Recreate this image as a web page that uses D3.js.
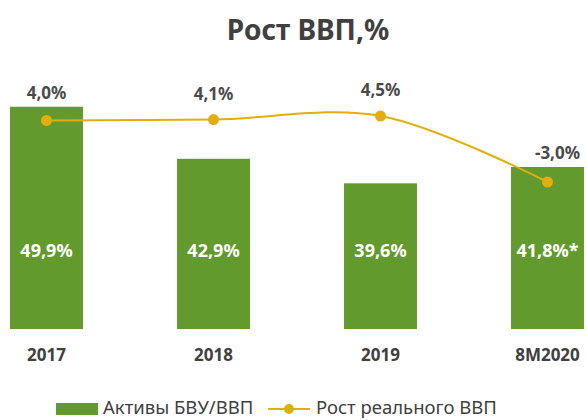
<!DOCTYPE html>
<html lang="ru">
<head>
<meta charset="UTF-8">
<script src="https://d3js.org/d3.v7.min.js"></script>
<style>
  body { margin: 0; background: #fff; font-family: "Noto Sans", sans-serif; }
</style>
</head>
<body>
<svg id="chart"></svg>
<script>
  // данные
  const categories = ["2017", "2018", "2019", "8M2020"];
  const assets = [49.9, 42.9, 39.6, 41.8];          // Активы БВУ/ВВП
  const assetLabels = ["49,9%", "42,9%", "39,6%", "41,8%*"];
  const gdpGrowth = [4.0, 4.1, 4.5, -3.0];         // Рост реального ВВП
  const gdpLabels = ["4,0%", "4,1%", "4,5%", "-3,0%"];

  const width = 587, height = 420;
  const barColor = "#639A2E";
  const lineColor = "#E4AD0C";
  const textColor = "#404040";

  const svg = d3.select("#chart").attr("width", width).attr("height", height);

  // заголовок
  svg.append("text")
    .attr("x", 308).attr("y", 40)
    .attr("text-anchor", "middle")
    .attr("font-size", 28).attr("font-weight", "bold")
    .attr("fill", textColor)
    .text("Рост ВВП,%");

  const x = d3.scaleBand()
    .domain(categories)
    .range([-37, 631])
    .paddingInner(0.563)
    .paddingOuter(0.2815);

  const yBar = d3.scaleLinear().domain([20, 50]).range([329, 106]);
  const yLine = d3.scaleLinear().domain([-3, 4.5]).range([182, 116]);

  const cx = d => x(d) + x.bandwidth() / 2;

  // столбцы
  svg.append("g").selectAll("rect")
    .data(categories)
    .join("rect")
    .attr("x", d => x(d))
    .attr("y", (d, i) => yBar(assets[i]))
    .attr("width", x.bandwidth())
    .attr("height", (d, i) => yBar.range()[0] - yBar(assets[i]))
    .attr("fill", barColor);

  // подписи в столбцах
  svg.append("g").selectAll("text")
    .data(categories)
    .join("text")
    .attr("x", cx)
    .attr("y", 257)
    .attr("text-anchor", "middle")
    .attr("font-size", 18).attr("font-weight", "bold")
    .attr("fill", "#fff")
    .text((d, i) => assetLabels[i]);

  // линия
  const pts = categories.map((c, i) => [cx(c), yLine(gdpGrowth[i])]);
  svg.append("path")
    .attr("d", d3.line().curve(d3.curveCatmullRom.alpha(0.5))(pts))
    .attr("fill", "none")
    .attr("stroke", lineColor)
    .attr("stroke-width", 2);

  svg.append("g").selectAll("circle")
    .data(pts)
    .join("circle")
    .attr("cx", d => d[0]).attr("cy", d => d[1])
    .attr("r", 5.5)
    .attr("fill", lineColor);

  // подписи линии: над точкой, но не ниже верха столбца
  svg.append("g").selectAll("text")
    .data(categories)
    .join("text")
    .attr("x", (d, i) => cx(d) + (gdpGrowth[i] < 0 ? 10 : 0))
    .attr("y", (d, i) => Math.min(yLine(gdpGrowth[i]) - 20, yBar(assets[i]) - 8))
    .attr("text-anchor", "middle")
    .attr("font-size", 17).attr("font-weight", "bold")
    .attr("fill", "#4a4a4a")
    .text((d, i) => gdpLabels[i]);

  // ось категорий
  svg.append("g").selectAll("text")
    .data(categories)
    .join("text")
    .attr("x", cx)
    .attr("y", 361)
    .attr("text-anchor", "middle")
    .attr("font-size", 17).attr("font-weight", "bold")
    .attr("fill", textColor)
    .text(d => d);

  // легенда
  const lg = svg.append("g");
  lg.append("rect").attr("x", 56).attr("y", 403).attr("width", 42).attr("height", 12).attr("fill", barColor);
  lg.append("text").attr("x", 103).attr("y", 414).attr("font-size", 18.5).attr("fill", textColor).text("Активы БВУ/ВВП");
  lg.append("line").attr("x1", 268).attr("x2", 310).attr("y1", 409).attr("y2", 409)
    .attr("stroke", lineColor).attr("stroke-width", 2);
  lg.append("circle").attr("cx", 289).attr("cy", 409).attr("r", 5).attr("fill", lineColor);
  lg.append("text").attr("x", 316).attr("y", 414).attr("font-size", 18.5).attr("fill", textColor).text("Рост реального ВВП");
</script>
</body>
</html>
